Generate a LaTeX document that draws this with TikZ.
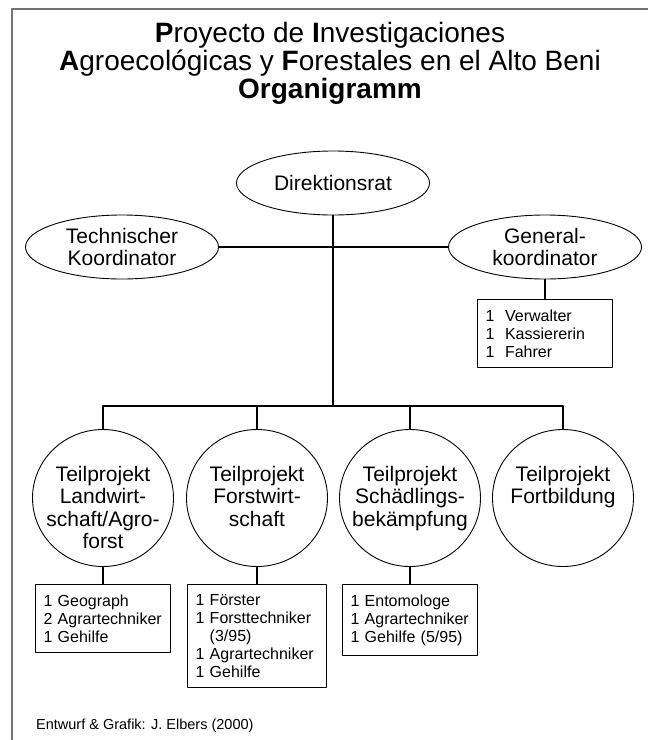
\documentclass[tikz,border=0pt]{standalone}
\usepackage{fontspec}
\setmainfont{Liberation Sans}
\usetikzlibrary{shapes.geometric,positioning}
\definecolor{framegray}{RGB}{115,115,115}
\tikzset{
  oval/.style={draw, ellipse, line width=0.9pt, minimum width=193pt, minimum height=64pt,
    inner sep=0pt, align=center, font=\fontsize{21}{22.5}\selectfont},
  unit/.style={draw, ellipse, line width=0.9pt, minimum width=141pt, minimum height=137pt, inner sep=0pt},
  unittext/.style={inner sep=0pt, align=center, font=\fontsize{21}{22.5}\selectfont},
  staff/.style={draw, line width=1pt, align=left, text width=119pt, inner xsep=8pt, inner ysep=10pt,
    font=\fontsize{16}{18}\selectfont},
  link/.style={line width=1.6pt},
  headline/.style={anchor=base, inner sep=0pt, font=\fontsize{28}{28}\selectfont}
}
\begin{document}
\begin{tikzpicture}[x=1pt,y=-1pt,line join=round,line cap=round]
  \useasboundingbox (0,0) rectangle (648,740);
  \draw[framegray, line width=1.8pt] (648,9) -- (12,9) -- (12,740);
  % title
  \node[headline] (title1) at (330,42) {\textbf{P}royecto de \textbf{I}nvestigaciones};
  \node[headline] (title2) at (330,70) {\textbf{A}groecológicas y \textbf{F}orestales en el Alto Beni};
  \node[headline] (title3) at (330,98) {\textbf{Organigramm}};
  % leitung
  \path
    (333,406) coordinate (bus)
    ;
  \node[oval] (rat) at (333,183) {Direktionsrat};
  \node[oval] (tech) at (122,247) {Technischer\\Koordinator};
  \node[oval] (gen) at (545,247) {General-\\koordinator};
  \node[staff, below=20pt of gen] (genstaff) {1~~Verwalter\\1~~Kassiererin\\1~~Fahrer};
  \draw[link] (tech) -- (gen);
  \draw[link] (rat) -- (bus);
  \draw[link] (gen) -- (genstaff);
  % teilprojekte
  \foreach \n/\x/\txt in {lw/103/{Teilprojekt\\Landwirt-\\schaft/Agro-\\forst},
      fw/257/{Teilprojekt\\Forstwirt-\\schaft},
      sb/410/{Teilprojekt\\Schädlings-\\bekämpfung},
      fb/563/{Teilprojekt\\Fortbildung}}
    \node[unit] (\n) at (\x,498) {} node[unittext, below=37pt of \n.north] (\n-t) {\txt};
  \draw[link] (lw) |- (bus) -| (fb);
  \draw[link] (fw) -- (fw |- bus);
  \draw[link] (sb) -- (sb |- bus);
  % personal
  \node[staff, below=17pt of lw] (lwstaff) {1 Geograph\\2 Agrartechniker\\1 Gehilfe};
  \node[staff, below=17pt of fw, text width=123pt] (fwstaff)
    {1 Förster\\1 Forsttechniker\\\hphantom{1} (3/95)\\1 Agrartechniker\\1 Gehilfe};
  \node[staff, below=17pt of sb] (sbstaff) {1 Entomologe\\1 Agrartechniker\\1 Gehilfe (5/95)};
  \draw[link] (lw) -- (lwstaff);
  \draw[link] (fw) -- (fwstaff);
  \draw[link] (sb) -- (sbstaff);
  \node[anchor=base west, inner sep=0pt, font=\fontsize{14.5}{14.5}\selectfont] (credit) at (36,729)
    {Entwurf \& Grafik: J. Elbers (2000)};
\end{tikzpicture}
\end{document}
